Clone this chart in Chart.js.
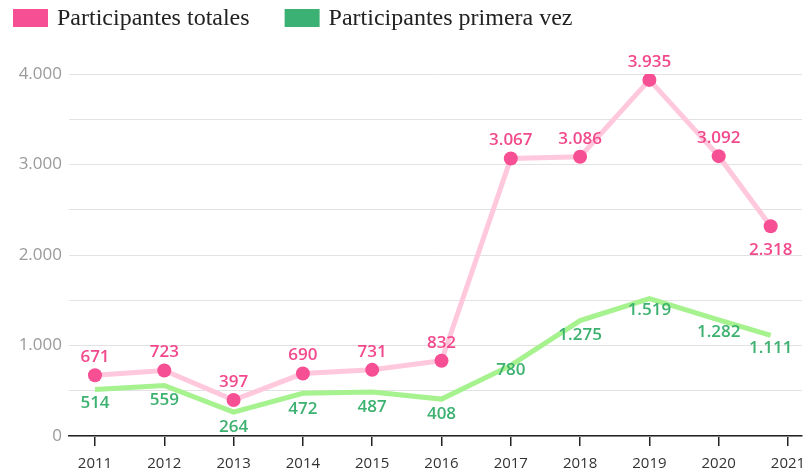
<!DOCTYPE html>
<html>
<head>
<meta charset="utf-8">
<script src="https://cdn.jsdelivr.net/npm/chart.js@4"></script>
<style>
  html, body { margin: 0; padding: 0; background: #fff; overflow: hidden; }
  #wrap { width: 809px; height: 476px; position: relative; }
  canvas { display: block; }
</style>
</head>
<body>
<div id="wrap"><canvas id="myChart"></canvas></div>
<script>
// data
var years = [2011, 2012, 2013, 2014, 2015, 2016, 2017, 2018, 2019, 2020, 2020.75];
var yearTicks = [2011, 2012, 2013, 2014, 2015, 2016, 2017, 2018, 2019, 2020, 2021];
var totales = [671, 723, 397, 690, 731, 832, 3067, 3086, 3935, 3092, 2318];
var primeraVez = [514, 559, 264, 472, 487, 408, 780, 1275, 1519, 1282, 1111];
var seriesNames = ['Participantes totales', 'Participantes primera vez'];

// styles
var legendColors = ['#f64f93', '#3bb273'];
var labelColors = ['#f2498c', '#3cb170'];
var labelOffsets = [
  [-18, -18, -18, -18, -18, -18, -18, -18, -18, -18, 24],
  [14, 15, 15, 16, 15, 15, 5, 15, 12, 12, 13]
];

function fmt(v) {
  return String(v).replace(/\B(?=(\d{3})+(?!\d))/g, '.');
}

function toPoints(ys) {
  return ys.map(function (y, i) { return { x: years[i], y: y }; });
}

/*---------------- labels on the points ----------------*/
var valueLabels = {
  id: 'valueLabels',
  afterDatasetsDraw: function (chart) {
    var ctx = chart.ctx;
    ctx.save();
    ctx.font = '600 17px "Open Sans"';
    ctx.textAlign = 'center';
    ctx.textBaseline = 'middle';
    chart.data.datasets.forEach(function (ds, i) {
      var meta = chart.getDatasetMeta(i);
      ctx.fillStyle = labelColors[i];
      meta.data.forEach(function (pt, j) {
        ctx.fillText(fmt(ds.data[j].y), pt.x, pt.y + labelOffsets[i][j]);
      });
    });
    ctx.restore();
  }
};

/*---------------- legend at the top ----------------*/
var topLegend = {
  id: 'topLegend',
  afterDraw: function (chart) {
    var ctx = chart.ctx;
    var x = 13;
    ctx.save();
    ctx.font = '24px "Liberation Serif"';
    ctx.textBaseline = 'middle';
    seriesNames.forEach(function (name, i) {
      ctx.fillStyle = legendColors[i];
      ctx.fillRect(x, 9, 35, 18);
      ctx.fillStyle = '#222';
      ctx.fillText(name, x + 44, 19);
      x += 44 + ctx.measureText(name).width + 35;
    });
    ctx.restore();
  }
};

new Chart('myChart', {
  type: 'line',
  data: {
    datasets: [{
      label: seriesNames[0],
      data: toPoints(totales),
      borderColor: '#ffc8dc',
      backgroundColor: '#f64f93',
      borderWidth: 5,
      pointRadius: 7,
      pointHoverRadius: 7,
      pointBackgroundColor: '#f64f93',
      pointBorderWidth: 0,
      tension: 0
    }, {
      label: seriesNames[1],
      data: toPoints(primeraVez),
      borderColor: '#a5f28f',
      backgroundColor: '#a5f28f',
      borderWidth: 5,
      pointRadius: 0,
      tension: 0
    }]
  },
  plugins: [valueLabels, topLegend],
  options: {
    responsive: true,
    maintainAspectRatio: false,
    animation: false,
    layout: { padding: { top: 74, left: 0, right: 0, bottom: 0 } },
    plugins: {
      legend: { display: false },
      tooltip: { enabled: false }
    },
    scales: {
      x: {
        type: 'linear',
        min: 2010.625,
        max: 2021.202,
        afterBuildTicks: function (axis) {
          axis.ticks = yearTicks.map(function (v) { return { value: v }; });
        },
        afterFit: function (axis) {
          axis.height = 40;
          axis.paddingLeft = 0;
          axis.paddingRight = 0;
        },
        grid: {
          drawOnChartArea: false,
          drawTicks: true,
          tickLength: 10,
          color: '#222',
          lineWidth: 1.5
        },
        border: { color: '#222', width: 1.5 },
        ticks: {
          autoSkip: false,
          maxRotation: 0,
          padding: 9,
          color: '#333',
          font: { family: 'Open Sans', size: 15 },
          callback: function (v) { return String(v); }
        }
      },
      y: {
        min: 0,
        max: 4000,
        afterFit: function (axis) { axis.width = 69; },
        grid: { color: '#e2e2e2', lineWidth: 1, drawTicks: false },
        border: { display: false },
        ticks: {
          stepSize: 500,
          padding: 7,
          color: '#9a9a9a',
          font: { family: 'Open Sans', size: 17 },
          callback: function (v) { return v % 1000 === 0 ? fmt(v) : ''; }
        }
      }
    }
  }
});
</script>
</body>
</html>
